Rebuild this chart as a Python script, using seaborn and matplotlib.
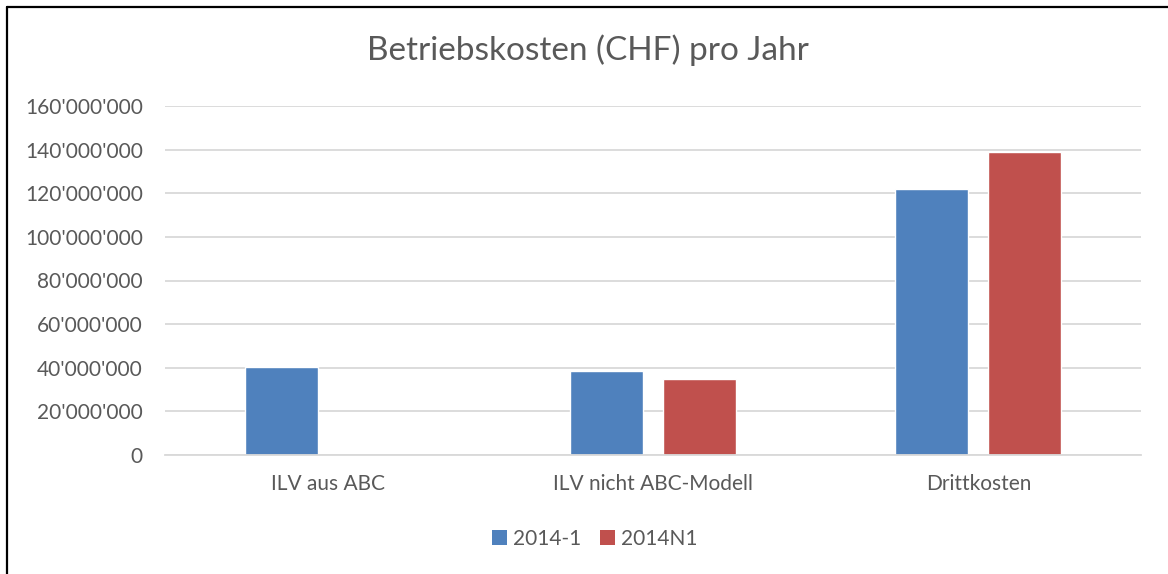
import matplotlib
matplotlib.use("Agg")
import matplotlib.pyplot as plt
import seaborn as sns
import pandas as pd
import numpy as np
from matplotlib.ticker import FuncFormatter, MultipleLocator
from matplotlib.lines import Line2D
from matplotlib.patches import Patch

categories = ["ILV aus ABC", "ILV nicht ABC-Modell", "Drittkosten"]
series_names = ["2014-1", "2014N1"]
values_2014_1 = [40500000, 38500000, 121900000]
values_2014N1 = [None, 34900000, 138900000]
title = "Betriebskosten (CHF) pro Jahr"
colors = ["#4F81BD", "#C0504D"]

rows = []
for cat, v in zip(categories, values_2014_1):
    rows.append({"Kategorie": cat, "Serie": series_names[0], "Wert": v})
for cat, v in zip(categories, values_2014N1):
    rows.append({"Kategorie": cat, "Serie": series_names[1], "Wert": v})
df = pd.DataFrame(rows).dropna()

sns.set_theme(style="white")
plt.rcParams["font.family"] = ["Lato", "DejaVu Sans"]
text_color = "#595959"
grid_color = "#D9D9D9"

W, H = 1168, 574
fig = plt.figure(figsize=(W / 100, H / 100), dpi=100)
ax = fig.add_axes([165 / W, 1 - 455 / H, (1141 - 165) / W, (455 - 106) / H])

sns.barplot(data=df, x="Kategorie", y="Wert", hue="Serie", order=categories,
            hue_order=series_names, palette=colors, width=0.571, gap=0.215,
            saturation=1, errorbar=None, ax=ax, legend=False)

ax.set_ylim(0, 160000000)
ax.set_xlim(-0.5, len(categories) - 0.5)
ax.yaxis.set_major_locator(MultipleLocator(20000000))
ax.yaxis.set_major_formatter(FuncFormatter(lambda v, p: f"{int(round(v)):,}".replace(",", "'")))
ax.grid(axis="y", color=grid_color, linewidth=1.3)
ax.set_axisbelow(True)
for s in ["top", "right", "left"]:
    ax.spines[s].set_visible(False)
ax.spines["bottom"].set_color(grid_color)
ax.spines["bottom"].set_linewidth(1.3)
ax.set_xlabel("")
ax.set_ylabel("")
ax.tick_params(axis="y", length=0, pad=16, labelsize=15, labelcolor=text_color)
ax.tick_params(axis="x", length=0, pad=14, labelsize=15, labelcolor=text_color)

fig.text(588 / W, 1 - 50 / H, title, ha="center", va="center",
         fontsize=24, color=text_color)

handles = [Patch(facecolor=c, edgecolor="none") for c in colors]
fig.legend(handles, series_names, loc="center", bbox_to_anchor=(595 / W, 1 - 539 / H),
           ncol=2, frameon=False, fontsize=15, labelcolor=text_color,
           handlelength=0.7, handleheight=0.7, handletextpad=0.3, columnspacing=0.9)

# outer frame (left and top edges)
fig.add_artist(Line2D([6.5 / W, 6.5 / W], [0, 1 - 6.5 / H], transform=fig.transFigure,
                      color="black", linewidth=1.6))
fig.add_artist(Line2D([6.5 / W, 1], [1 - 6.5 / H, 1 - 6.5 / H], transform=fig.transFigure,
                      color="black", linewidth=1.6))

fig.savefig("out.png", dpi=100, facecolor="white")
